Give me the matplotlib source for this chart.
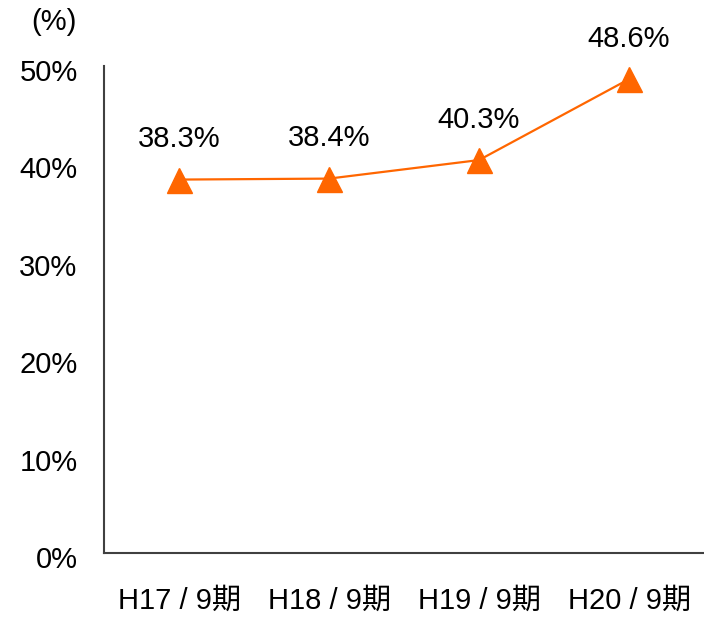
import matplotlib
matplotlib.use("Agg")
import matplotlib.pyplot as plt
import matplotlib.transforms as mtransforms

categories = ["H17 / 9期", "H18 / 9期", "H19 / 9期", "H20 / 9期"]
values = [38.3, 38.4, 40.3, 48.6]
value_labels = ["38.3%", "38.4%", "40.3%", "48.6%"]
yticks = [0, 10, 20, 30, 40, 50]
ytick_labels = ["0%", "10%", "20%", "30%", "40%", "50%"]

plt.rcParams['font.family'] = ['Liberation Sans', 'Noto Sans CJK JP']

fig = plt.figure(figsize=(7.04, 6.22), dpi=100)
ax = fig.add_axes([104/704, 69/622, 600/704, (553-65.5)/622])

x = list(range(len(categories)))
ax.plot(x, values, color="#FF6600", lw=1.6, marker="^", markersize=18,
        markerfacecolor="#FF6600", markeredgecolor="#FF6600", clip_on=False)
for xi, v, lab in zip(x, values, value_labels):
    ax.annotate(lab, (xi, v), xytext=(0, 29), textcoords="offset points",
                ha="center", va="center", fontsize=21)

ax.set_xlim(-0.5, 3.5)
ax.set_ylim(0, 50)
ax.set_yticks(yticks)
ax.set_yticklabels(ytick_labels, fontsize=21)
ax.set_xticks(x)
ax.set_xticklabels(categories, fontsize=21)
ax.tick_params(axis="both", length=0)
ax.tick_params(axis="x", pad=24)
ax.tick_params(axis="y", pad=19)
offset = mtransforms.ScaledTranslation(0, -3/72, fig.dpi_scale_trans)
for lbl in ax.get_yticklabels():
    lbl.set_transform(lbl.get_transform() + offset)
for s in ["top", "right"]:
    ax.spines[s].set_visible(False)
ax.spines["left"].set_color("#404040")
ax.spines["bottom"].set_color("#404040")
ax.spines["left"].set_linewidth(1.5)
ax.spines["bottom"].set_linewidth(1.5)

fig.text(54/704, 1 - 22/622, "(%)", ha="center", va="center", fontsize=21)

fig.savefig("out.png", dpi=100)
